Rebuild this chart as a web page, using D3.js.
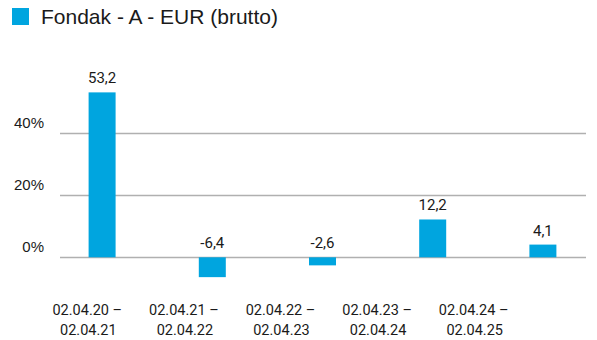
<!DOCTYPE html>
<html>
<head>
<meta charset="utf-8">
<script src="https://cdn.jsdelivr.net/npm/d3@7"></script>
<style>
  html, body { margin: 0; padding: 0; background: #fff; }
  svg { display: block; }
</style>
</head>
<body>
<svg id="chart" width="597" height="340"></svg>
<script>
// Annual performance periods
const periodStart = ["02.04.20", "02.04.21", "02.04.22", "02.04.23", "02.04.24"];
const periodEnd   = ["02.04.21", "02.04.22", "02.04.23", "02.04.24", "02.04.25"];
// Gross performance in percent
const values = [53.2, -6.4, -2.6, 12.2, 4.1];
const yTicks = [0, 20, 40];
const seriesName = "Fondak - A - EUR (brutto)";

const W = 597, H = 340;
const barColor = "#00a5df";
const gridColor = "#b0b0b0";
const textColor = "#1a1a1a";

const svg = d3.select("#chart");
const idx = d3.range(values.length);

// Bars
const x = d3.scaleBand()
  .domain(idx)
  .range([47, 598])
  .paddingInner(0.755)
  .paddingOuter(0.3775);

// Period labels along the bottom
const xLabel = d3.scaleBand()
  .domain(idx)
  .range([39, 522]);

const y = d3.scaleLinear()
  .domain([0, 20])
  .range([257.3, 195.3]);

// Legend
const legend = svg.append("g");
legend.append("rect")
  .attr("x", 12).attr("y", 8)
  .attr("width", 17).attr("height", 17)
  .attr("fill", barColor);
legend.append("text")
  .attr("x", 41).attr("y", 24)
  .attr("font-family", "'Liberation Sans', Arial, sans-serif")
  .attr("font-size", 21)
  .attr("fill", textColor)
  .text(seriesName);

// Horizontal grid lines
svg.append("g")
  .selectAll("line")
  .data(yTicks)
  .join("line")
  .attr("x1", 60).attr("x2", 586)
  .attr("y1", d => Math.round(y(d)) + 0.5)
  .attr("y2", d => Math.round(y(d)) + 0.5)
  .attr("stroke", gridColor)
  .attr("stroke-width", 1.3);

// Y tick labels
svg.append("g")
  .selectAll("text")
  .data(yTicks)
  .join("text")
  .attr("x", 44)
  .attr("y", d => y(d) - 5)
  .attr("text-anchor", "end")
  .attr("font-family", "'Liberation Sans', Arial, sans-serif")
  .attr("font-size", 15)
  .attr("fill", textColor)
  .text(d => d + "%");

// Bars
svg.append("g")
  .selectAll("rect")
  .data(values)
  .join("rect")
  .attr("x", (d, i) => x(i))
  .attr("width", x.bandwidth())
  .attr("y", d => y(Math.max(0, d)))
  .attr("height", d => Math.abs(y(d) - y(0)))
  .attr("fill", barColor);

// Value labels
const fmt = d => d3.format(".1f")(d).replace(".", ",").replace("−", "-");
svg.append("g")
  .selectAll("text")
  .data(values)
  .join("text")
  .attr("x", (d, i) => x(i) + x.bandwidth() / 2)
  .attr("y", d => y(Math.max(0, d)) - 9)
  .attr("text-anchor", "middle")
  .attr("font-family", "Roboto, sans-serif")
  .attr("font-size", 15)
  .attr("fill", textColor)
  .text(fmt);

// Period labels (two lines)
const lbl = svg.append("g")
  .selectAll("text")
  .data(idx)
  .join("text")
  .attr("text-anchor", "middle")
  .attr("font-family", "Roboto, sans-serif")
  .attr("font-size", 14.5)
  .attr("fill", textColor);
lbl.append("tspan")
  .attr("x", i => xLabel(i) + xLabel.bandwidth() / 2)
  .attr("y", 315)
  .text(i => periodStart[i] + " \u2013");
lbl.append("tspan")
  .attr("x", i => xLabel(i) + xLabel.bandwidth() / 2 + 1)
  .attr("y", 335)
  .text(i => periodEnd[i]);
</script>
</body>
</html>
